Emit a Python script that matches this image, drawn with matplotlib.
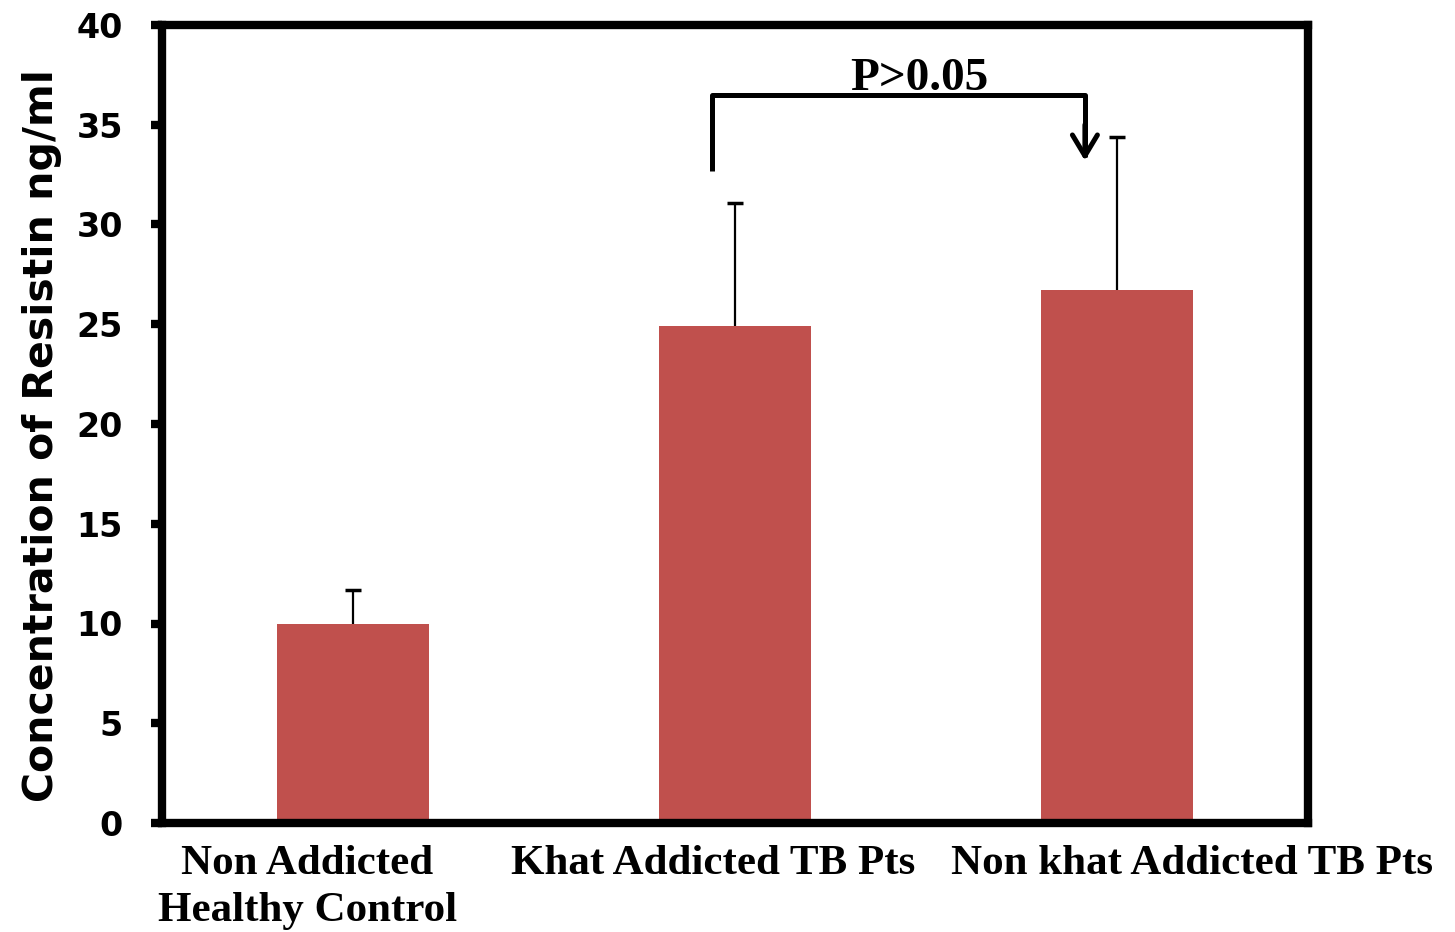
import matplotlib
matplotlib.use("Agg")
import matplotlib.pyplot as plt
from matplotlib import transforms

groups = ["Non Addicted\nHealthy Control", "Khat Addicted TB Pts", "Non khat Addicted TB Pts"]
resistin = [10.0, 24.9, 26.7]
sd = [1.7, 6.2, 7.7]
label_x = [-0.12, 0.943, 2.196]   # where each group name sits along x
yticks = [0, 5, 10, 15, 20, 25, 30, 35, 40]
p_text = "P>0.05"

fig = plt.figure(figsize=(14.55, 9.32), dpi=100)
ax = fig.add_axes([162 / 1455, 1 - 823 / 932, 1146 / 1455, 798 / 932])

x = list(range(len(groups)))
ax.bar(x, resistin, width=0.4, color="#C0504D", zorder=2)
_, caps, _ = ax.errorbar(x, resistin, yerr=[[0] * len(sd), sd], fmt="none",
                         ecolor="black", elinewidth=1.6, capsize=6, capthick=2.5,
                         zorder=3)
caps[0].set_visible(False)   # only the upper whisker is shown

ax.set_xlim(-0.5, 2.5)
ax.set_ylim(0, 40)
ax.set_yticks(yticks)
ax.set_yticklabels([str(t) for t in yticks], fontsize=24, fontweight="bold",
                   family="DejaVu Sans")
ax.tick_params(axis="y", direction="out", length=8, width=6, pad=20)
ax.tick_params(axis="x", length=0, labelbottom=False)
for s in ax.spines.values():
    s.set_linewidth(6)

ax.set_ylabel("Concentration of Resistin ng/ml", fontsize=29.5, fontweight="bold",
              family="DejaVu Sans")
ax.yaxis.set_label_coords(-0.087, 0.486)

# group names under the bars
trans = transforms.blended_transform_factory(ax.transData, ax.transAxes)
for gx, name in zip(label_x, groups):
    ax.text(gx, -0.027, name, transform=trans, ha="center", va="top",
            family="Liberation Serif", fontweight="bold", fontsize=31,
            linespacing=1.32)

# significance bracket between the two TB groups
ax.plot([0.94, 0.94, 1.916, 1.916], [32.7, 36.5, 36.5, 33.4], color="black",
        lw=3.6, solid_joinstyle="round", solid_capstyle="butt", zorder=4)
ax.annotate("", xy=(1.916, 33.2), xytext=(1.916, 35.0),
            arrowprops=dict(arrowstyle="->,head_length=0.75,head_width=0.45",
                            mutation_scale=20, color="black", lw=3.6,
                            shrinkA=0, shrinkB=0))
ax.text(1.483, 36.72, p_text, ha="center", va="baseline", family="Liberation Serif",
        fontweight="bold", fontsize=34)

fig.savefig("out.png", dpi=100)
